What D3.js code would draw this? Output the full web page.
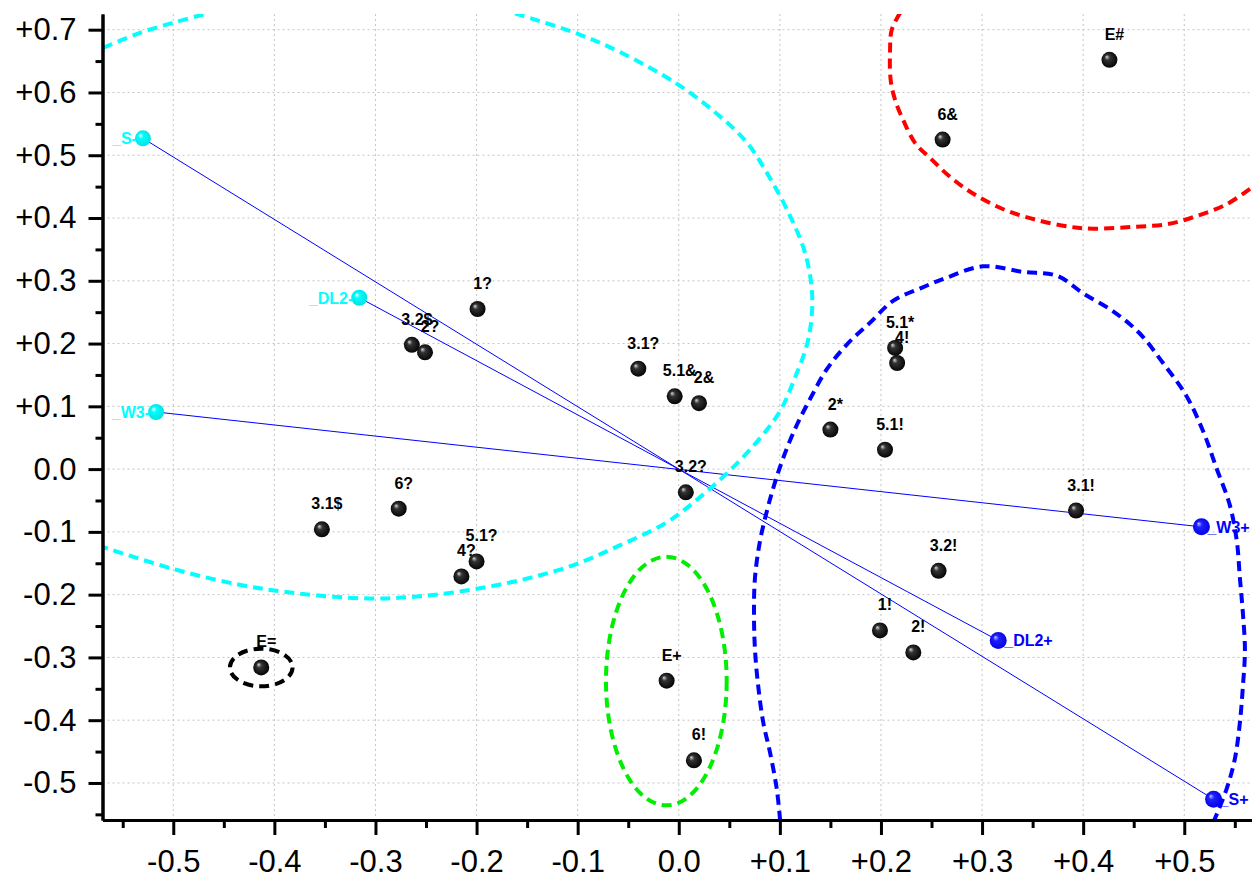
<!DOCTYPE html>
<html lang="en">

<head>
	<meta charset="utf-8">
	<title>Biplot</title>
	<script src="https://d3js.org/d3.v7.min.js"></script>
	<style>
		body {
			margin: 0;
			background: white;
			font-family: "Liberation Sans", Arial, Helvetica, sans-serif;
		}

		.axis text {
			font-family: "Liberation Sans", Arial, sans-serif;
			font-size: 31px;
			fill: black;
		}

		.ptlabel {
			font-size: 16px;
			font-weight: bold;
		}
	</style>
</head>

<body>
	<script>
		//observation points
		var pointLabels = ["E#", "6&", "1?", "3.2$", "2?", "3.1?", "5.1&", "2&", "3.2?", "6?", "3.1$", "4?",
			"5.1?", "E=", "E+", "6!", "1!", "2!", "3.2!", "5.1*", "4!", "2*", "5.1!", "3.1!"];
		var pointX = [0.426, 0.261, -0.199, -0.264, -0.251, -0.040, -0.004, 0.020, 0.007, -0.277, -0.353, -0.215,
			-0.200, -0.413, -0.012, 0.015, 0.199, 0.232, 0.257, 0.214, 0.216, 0.150, 0.204, 0.393];
		var pointY = [0.652, 0.525, 0.255, 0.198, 0.186, 0.160, 0.116, 0.105, -0.037, -0.063, -0.096, -0.171,
			-0.147, -0.316, -0.337, -0.464, -0.257, -0.292, -0.162, 0.193, 0.169, 0.063, 0.031, -0.066];

		//variable axes (negative end / positive end)
		var varNames = ["_S", "_DL2", "_W3"];
		var varNegX = [-0.530, -0.316, -0.517];
		var varNegY = [0.527, 0.273, 0.091];
		var varPosX = [0.529, 0.316, 0.517];
		var varPosY = [-0.526, -0.273, -0.092];

		//tick values
		var xTicks = [-0.5, -0.4, -0.3, -0.2, -0.1, 0.0, 0.1, 0.2, 0.3, 0.4, 0.5];
		var xMinor = [-0.55, -0.45, -0.35, -0.25, -0.15, -0.05, 0.05, 0.15, 0.25, 0.35, 0.45, 0.55];
		var yTicks = [-0.5, -0.4, -0.3, -0.2, -0.1, 0.0, 0.1, 0.2, 0.3, 0.4, 0.5, 0.6, 0.7];
		var yMinor = [-0.55, -0.45, -0.35, -0.25, -0.15, -0.05, 0.05, 0.15, 0.25, 0.35, 0.45, 0.55, 0.65];

		//group outlines
		var cyanTop = [[-0.5695, 0.671], [-0.533, 0.695], [-0.498, 0.712], [-0.466, 0.726]];
		var cyanMain = [[-0.162, 0.726], [-0.101, 0.694], [-0.059, 0.665], [-0.003, 0.615], [0.034, 0.571],
			[0.067, 0.521], [0.090, 0.464], [0.109, 0.407], [0.125, 0.344], [0.132, 0.275], [0.128, 0.206],
			[0.114, 0.142], [0.100, 0.092], [0.076, 0.041], [0.048, -0.006], [0.020, -0.046], [-0.012, -0.085],
			[-0.059, -0.122], [-0.106, -0.154], [-0.171, -0.182], [-0.246, -0.201], [-0.306, -0.206],
			[-0.377, -0.198], [-0.432, -0.185], [-0.498, -0.160], [-0.570, -0.124]];
		var redLine = [[0.219, 0.727], [0.2106, 0.6996], [0.209, 0.668], [0.2096, 0.620], [0.214, 0.588],
			[0.222, 0.556], [0.234, 0.519], [0.249, 0.495], [0.268, 0.466], [0.291, 0.439], [0.321, 0.414],
			[0.354, 0.397], [0.387, 0.386], [0.410, 0.383], [0.4496, 0.386], [0.4826, 0.390], [0.512, 0.403],
			[0.542, 0.422], [0.568, 0.450]];
		var blueLine = [[0.1003, -0.560], [0.0968, -0.508], [0.0902, -0.451], [0.0836, -0.404], [0.0786, -0.346],
			[0.0754, -0.288], [0.0744, -0.230], [0.0754, -0.173], [0.0803, -0.115], [0.087, -0.068],
			[0.095, -0.022], [0.105, 0.025], [0.117, 0.071], [0.130, 0.112], [0.146, 0.158], [0.166, 0.198],
			[0.189, 0.233], [0.212, 0.268], [0.239, 0.288], [0.265, 0.305], [0.301, 0.323], [0.341, 0.314],
			[0.374, 0.308], [0.400, 0.280], [0.430, 0.251], [0.456, 0.216], [0.479, 0.169], [0.502, 0.117],
			[0.519, 0.059], [0.532, 0.001], [0.545, -0.057], [0.552, -0.115], [0.555, -0.173], [0.558, -0.230],
			[0.560, -0.288], [0.558, -0.346], [0.555, -0.404], [0.550, -0.462], [0.542, -0.509], [0.5295, -0.560]];

		//ellipses: centre and radii
		var ellCx = [-0.0123, -0.413];
		var ellCy = [-0.3377, -0.316];
		var ellRx = [0.0597, 0.031];
		var ellRy = [0.198, 0.030];
		var ellColor = ["#00ee00", "black"];

		var w = 1252;
		var h = 873;
		var padL = 102.5, padR = 1252, padT = 14, padB = 820;

		var xScale = d3.scaleLinear().domain([-0.57, 0.567]).range([padL, padR]);
		var yScale = d3.scaleLinear().domain([-0.559, 0.725]).range([padB, padT]);

		var fmt = function (v) {
			if (Math.abs(v) < 1e-9) return "0.0";
			return (v < 0 ? "-" : "+") + Math.abs(v).toFixed(1);
		};

		var svg = d3.select("body")
			.append("svg")
			.attr("width", w)
			.attr("height", h);

		//sphere gradients
		var defs = svg.append("defs");
		function sphere(id, hi, mid, base) {
			var g = defs.append("radialGradient")
				.attr("id", id)
				.attr("cx", "50%").attr("cy", "50%").attr("r", "55%")
				.attr("fx", "32%").attr("fy", "30%");
			g.append("stop").attr("offset", "0%").attr("stop-color", hi);
			g.append("stop").attr("offset", "30%").attr("stop-color", mid);
			g.append("stop").attr("offset", "100%").attr("stop-color", base);
		}
		sphere("gBlack", "#d8d8d8", "#333", "#000");
		sphere("gCyan", "#ffffff", "#00ffff", "#00e0e0");
		sphere("gBlue", "#c8c8ff", "#2020ff", "#0000e0");

		defs.append("clipPath").attr("id", "plotClip")
			.append("rect")
			.attr("x", padL).attr("y", padT)
			.attr("width", padR - padL).attr("height", padB - padT);

		//grid
		svg.append("g").selectAll("line")
			.data(xTicks)
			.enter().append("line")
			.attr("x1", function (d) { return xScale(d); })
			.attr("x2", function (d) { return xScale(d); })
			.attr("y1", padT).attr("y2", padB)
			.style("stroke", "#c4c4c4")
			.style("stroke-dasharray", "2,3");
		svg.append("g").selectAll("line")
			.data(yTicks)
			.enter().append("line")
			.attr("y1", function (d) { return yScale(d); })
			.attr("y2", function (d) { return yScale(d); })
			.attr("x1", padL).attr("x2", padR)
			.style("stroke", "#c4c4c4")
			.style("stroke-dasharray", "2,3");

		//variable lines
		svg.append("g").selectAll("line")
			.data(varNames)
			.enter().append("line")
			.attr("x1", function (d, i) { return xScale(varNegX[i]); })
			.attr("y1", function (d, i) { return yScale(varNegY[i]); })
			.attr("x2", function (d, i) { return xScale(varPosX[i]); })
			.attr("y2", function (d, i) { return yScale(varPosY[i]); })
			.style("stroke", "#0000ff")
			.style("stroke-width", 1);

		//points
		var pts = svg.append("g");
		pts.selectAll("circle")
			.data(pointLabels)
			.enter().append("circle")
			.attr("cx", function (d, i) { return xScale(pointX[i]); })
			.attr("cy", function (d, i) { return yScale(pointY[i]); })
			.attr("r", 8)
			.attr("fill", "url(#gBlack)");
		pts.selectAll("text")
			.data(pointLabels)
			.enter().append("text")
			.attr("class", "ptlabel")
			.attr("text-anchor", "middle")
			.attr("x", function (d, i) { return xScale(pointX[i]) + 5; })
			.attr("y", function (d, i) { return yScale(pointY[i]) - 20; })
			.text(function (d) { return d; });

		//variable end points and labels
		var vars = svg.append("g");
		vars.selectAll("circle.neg")
			.data(varNames)
			.enter().append("circle")
			.attr("class", "neg")
			.attr("cx", function (d, i) { return xScale(varNegX[i]); })
			.attr("cy", function (d, i) { return yScale(varNegY[i]); })
			.attr("r", 8)
			.attr("fill", "url(#gCyan)");
		vars.selectAll("circle.pos")
			.data(varNames)
			.enter().append("circle")
			.attr("class", "pos")
			.attr("cx", function (d, i) { return xScale(varPosX[i]); })
			.attr("cy", function (d, i) { return yScale(varPosY[i]); })
			.attr("r", 8.5)
			.attr("fill", "url(#gBlue)");
		vars.selectAll("text.neg")
			.data(varNames)
			.enter().append("text")
			.attr("class", "ptlabel neg")
			.attr("text-anchor", "end")
			.attr("x", function (d, i) { return xScale(varNegX[i]) - 6; })
			.attr("y", function (d, i) { return yScale(varNegY[i]) + 6; })
			.style("fill", "#00ffff")
			.text(function (d) { return d + "-"; });
		vars.selectAll("text.pos")
			.data(varNames)
			.enter().append("text")
			.attr("class", "ptlabel pos")
			.attr("text-anchor", "start")
			.attr("x", function (d, i) { return xScale(varPosX[i]) + 6; })
			.attr("y", function (d, i) { return yScale(varPosY[i]) + 6; })
			.style("fill", "#0000ff")
			.text(function (d) { return d + "+"; });

		//group outlines
		var line = d3.line()
			.x(function (d) { return xScale(d[0]); })
			.y(function (d) { return yScale(d[1]); })
			.curve(d3.curveCatmullRom.alpha(0.5));

		var outlines = svg.append("g").attr("clip-path", "url(#plotClip)");
		var outlineData = [[cyanTop, "#00ffff"], [cyanMain, "#00ffff"], [redLine, "#ff0000"], [blueLine, "#0000ff"]];
		outlines.selectAll("path")
			.data(outlineData)
			.enter().append("path")
			.attr("d", function (d) { return line(d[0]); })
			.style("fill", "none")
			.style("stroke", function (d) { return d[1]; })
			.style("stroke-width", 4)
			.style("stroke-dasharray", "10,6");

		outlines.selectAll("ellipse")
			.data(ellCx)
			.enter().append("ellipse")
			.attr("cx", function (d, i) { return xScale(ellCx[i]); })
			.attr("cy", function (d, i) { return yScale(ellCy[i]); })
			.attr("rx", function (d, i) { return xScale(ellRx[i]) - xScale(0); })
			.attr("ry", function (d, i) { return yScale(0) - yScale(ellRy[i]); })
			.style("fill", "none")
			.style("stroke", function (d, i) { return ellColor[i]; })
			.style("stroke-width", 4)
			.style("stroke-dasharray", "10,6");

		//axes
		var yAxis = d3.axisLeft(yScale).tickValues(yTicks).tickFormat(fmt)
			.tickSize(14).tickSizeOuter(0).tickPadding(12);
		var yMinorAxis = d3.axisLeft(yScale).tickValues(yMinor).tickFormat("")
			.tickSize(7).tickSizeOuter(0);
		var xAxis = d3.axisBottom(xScale).tickValues(xTicks).tickFormat(fmt)
			.tickSize(15).tickSizeOuter(0).tickPadding(15);
		var xMinorAxis = d3.axisBottom(xScale).tickValues(xMinor).tickFormat("")
			.tickSize(8).tickSizeOuter(0);

		svg.append("g")
			.attr("class", "axis")
			.attr("transform", "translate(" + padL + ",0)")
			.call(yMinorAxis);
		svg.append("g")
			.attr("class", "axis")
			.attr("transform", "translate(" + padL + ",0)")
			.call(yAxis);
		svg.append("g")
			.attr("class", "axis")
			.attr("transform", "translate(0," + padB + ")")
			.call(xMinorAxis);
		svg.append("g")
			.attr("class", "axis")
			.attr("transform", "translate(0," + padB + ")")
			.call(xAxis);

		svg.selectAll(".axis path, .axis line")
			.style("stroke", "black")
			.style("stroke-width", 3);
	</script>
</body>

</html>
